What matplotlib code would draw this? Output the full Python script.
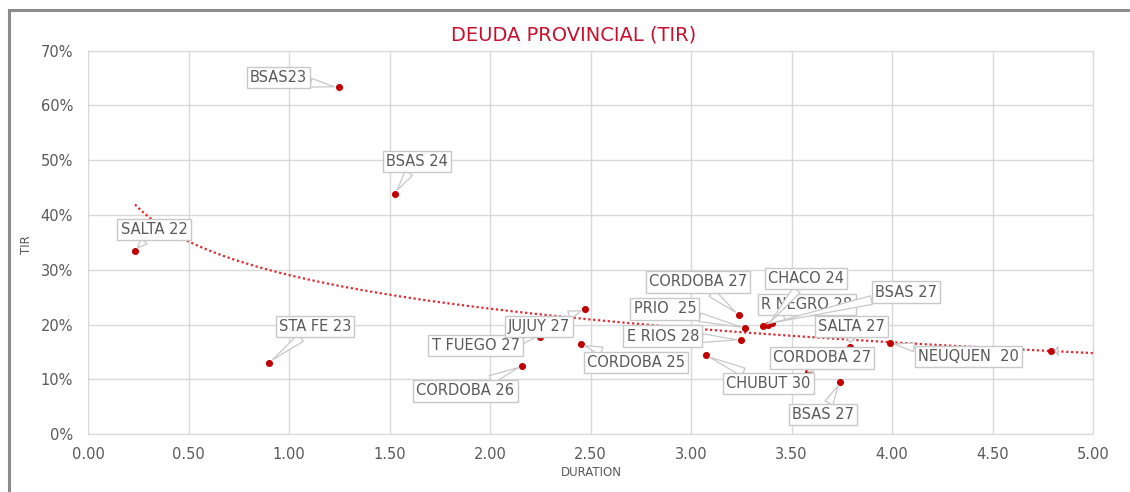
import numpy as np
import matplotlib
matplotlib.use("Agg")
import matplotlib.pyplot as plt
from matplotlib.ticker import FuncFormatter, MultipleLocator
from matplotlib.patches import Rectangle

# bonos provinciales: duration vs TIR (%)
bonos = ["SALTA 22", "STA FE 23", "BSAS23", "BSAS 24", "CORDOBA 26",
         "T FUEGO 27", "JUJUY 27", "CORDOBA 25", "CHUBUT 30", "CORDOBA 27",
         "E RIOS 28", "PRIO  25", "R NEGRO 28", "CHACO 24", "BSAS 27",
         "SALTA 27", "CORDOBA 27", "BSAS 27", "NEUQUEN  20", ""]
duration = [0.233, 0.900, 1.246, 1.525, 2.161,
            2.246, 2.472, 2.451, 3.072, 3.238,
            3.247, 3.268, 3.358, 3.383, 3.403,
            3.790, 3.582, 3.741, 3.991, 4.790]
tir = [33.5, 13.1, 63.3, 43.9, 12.5,
       17.8, 22.8, 16.4, 14.4, 21.8,
       17.2, 19.4, 19.8, 20.0, 20.3,
       16.0, 11.4, 9.5, 16.6, 15.2]

# desplazamiento de cada etiqueta respecto del punto (pixeles)
offsets = [(19, 21), (46, 36), (-60, 10), (22, 32), (-57, -25),
           (-64, -9), (-46, -17), (55, -18), (63, -28), (-41, 33),
           (-78, 4), (-80, 19), (44, 21), (38, 46), (134, 31),
           (2, 20), (14, 14), (-17, -32), (78, -13), (11, 0)]

GRIS = "#595959"
ROJO = "#C8102E"

x = np.array(duration)
y = np.array(tir)

fig = plt.figure(figsize=(11.3, 4.92), dpi=100)
ax = fig.add_axes([0.07805, 0.11728, 0.8892, 0.7797])

# marco exterior del grafico (cortado a derecha y abajo)
fig.patches.append(Rectangle((9 / 1130, -0.1), 1.5, (492 - 10) / 492 + 0.1,
                             transform=fig.transFigure, fill=False,
                             edgecolor="#8c8c8c", linewidth=2.2))

# linea de tendencia logaritmica (como Excel)
b, a = np.polyfit(np.log(x), y, 1)
xt = np.linspace(x.min(), 5.0, 300)
ax.plot(xt, a + b * np.log(xt), color="#E0282E", linestyle=(0, (1, 1.2)),
        linewidth=1.6, zorder=2)

ax.scatter(x, y, s=26, color="#C00000", zorder=4, linewidths=0)

for name, xi, yi, off in zip(bonos, x, y, offsets):
    ax.annotate(name, (xi, yi), xytext=off, textcoords="offset pixels",
                ha="center", va="center", fontsize=10.5, color=GRIS,
                bbox=dict(boxstyle="square,pad=0.22", fc="white",
                          ec="#c8c8c8", lw=1),
                arrowprops=dict(arrowstyle="wedge,tail_width=0.6",
                                fc="white", ec="#c8c8c8", lw=0.9,
                                shrinkA=0, shrinkB=3),
                zorder=5)

ax.set_xlim(0, 5)
ax.set_ylim(0, 70)
ax.xaxis.set_major_locator(MultipleLocator(0.5))
ax.yaxis.set_major_locator(MultipleLocator(10))
ax.xaxis.set_major_formatter(FuncFormatter(lambda v, p: "%.2f" % v))
ax.yaxis.set_major_formatter(FuncFormatter(lambda v, p: "%d%%" % v))
ax.tick_params(length=0, labelsize=10.5, labelcolor=GRIS)
ax.tick_params(axis="x", pad=9)
ax.tick_params(axis="y", pad=11)
ax.grid(True, color="#d9d9d9", linewidth=1)
ax.set_axisbelow(True)
for s in ax.spines.values():
    s.set_color("#d9d9d9")

fig.text(574 / 1130, 1 - 35 / 492, "DEUDA PROVINCIAL (TIR)", color=ROJO,
         fontsize=14, ha="center", va="center")
fig.text(591 / 1130, 1 - 473 / 492, "DURATION", color=GRIS,
         fontsize=8.5, ha="center", va="center")
fig.text(26.5 / 1130, 1 - 245 / 492, "TIR", color=GRIS, fontsize=8.5,
         rotation=90, ha="center", va="center")

fig.savefig("out.png", dpi=100)
